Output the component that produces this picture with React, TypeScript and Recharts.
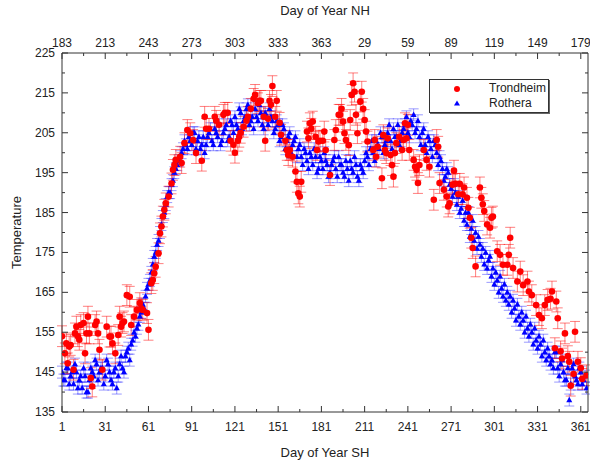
import React from 'react';
import { ScatterChart, Scatter, XAxis, YAxis, ErrorBar } from 'recharts';

// day of year (southern hemisphere) on the bottom axis, northern hemisphere on top
const SH_TICKS = [1, 31, 61, 91, 121, 151, 181, 211, 241, 271, 301, 331, 361];
const NH_LABELS = ['183', '213', '243', '273', '303', '333', '363', '29', '59', '89', '119', '149', '179'];
const X_MINOR = [16, 46, 76, 106, 136, 166, 196, 226, 256, 286, 316, 346];
const Y_TICKS = [135, 145, 155, 165, 175, 185, 195, 205, 215, 225];
const Y_MINOR = [140, 150, 160, 170, 180, 190, 200, 210, 220];

const TRONDHEIM_ERR = 2.6;
const ROTHERA_ERR = 1.5;

// [day, temperature]
const TRONDHEIM: [number, number][] = [
  [1, 154], [3, 149.7], [4, 152.2], [5, 147.2], [6, 151.4], [7, 151.8], [9, 145.6], [10, 154.7],
  [11, 156.4], [12, 154], [13, 153.1], [14, 156.8], [16, 157.3], [17, 149.7], [18, 154.7], [19, 158.9],
  [20, 154.7], [21, 143.5], [22, 141.4], [24, 156.8], [25, 157.7], [26, 154.7], [27, 150.6], [29, 145.6],
  [32, 156.4], [34, 153.9], [35, 153.9], [36, 152.2], [38, 149.7], [40, 154.3], [41, 158.9], [42, 156.4],
  [43, 157.3], [44, 157.7], [46, 164.3], [48, 163.9], [49, 156.8], [51, 158.9], [53, 160.6], [55, 162.3],
  [56, 161], [57, 160.6], [60, 159.8], [61, 155.6], [63, 167.3], [64, 168.1], [65, 169.8], [66, 171.4],
  [68, 174.8], [69, 179.8], [70, 181.5], [71, 184], [72, 185.7], [73, 187.3], [75, 189], [77, 192.3],
  [78, 195.7], [79, 196.9], [80, 198.2], [83, 199], [84, 197.4], [86, 202.4], [88, 205.7], [90, 204.9],
  [92, 203.2], [94, 199.9], [98, 198], [100, 209], [101, 206], [103, 206], [107, 209], [108, 208],
  [110, 207], [113, 209.5], [114, 210], [116, 210], [118, 203], [120, 202], [121, 200], [123, 203],
  [124, 204], [125, 205], [127, 206.5], [129, 208], [130, 209], [132, 211], [134, 213.5], [135, 214.5],
  [137, 212.4], [138, 213], [139, 213], [141, 209], [142, 203], [144, 208.5], [145, 213], [146, 212],
  [147, 216.7], [149, 209], [150, 213], [152, 207.5], [153, 204.5], [156, 203], [157, 200.7], [158, 199.4],
  [159, 200.7], [161, 199], [163, 195.3], [164, 192.7], [165, 189.8], [166, 189], [167, 192.7], [171, 205.3],
  [172, 203.6], [173, 207.4], [174, 206], [175, 207.8], [177, 204], [178, 200.7], [179, 202.8], [180, 203],
  [182, 203], [183, 205.3], [184, 200.7], [187, 194.4], [190, 203.2], [191, 205.7], [193, 209.5], [194, 209.5],
  [195, 211], [196, 207.8], [197, 204.9], [198, 203.2], [200, 201.9], [201, 208.2], [202, 214.5], [203, 217.4],
  [204, 215.3], [205, 209.5], [206, 204.9], [208, 212.8], [209, 215.3], [210, 211], [211, 208.2], [212, 205.3],
  [213, 202.8], [217, 200.7], [218, 203.2], [219, 199], [220, 201.5], [223, 193.6], [224, 204.4], [225, 200.7],
  [226, 199.9], [227, 203.6], [229, 199.4], [230, 196.9], [231, 194], [232, 199.9], [233, 202.4], [235, 204],
  [237, 200.7], [238, 203.2], [239, 207.4], [240, 203.6], [241, 207], [242, 200.7], [245, 198.2], [246, 196.5],
  [247, 195.7], [248, 192.4], [249, 196.9], [252, 200.7], [254, 198.2], [256, 196.5], [259, 188.2], [261, 203.2],
  [262, 201.5], [263, 192.4], [266, 190.7], [268, 189], [269, 186.5], [270, 187.3], [272, 192], [273, 195.5],
  [274, 192.2], [276, 189.6], [277, 192.2], [279, 189.6], [280, 191.3], [282, 188.7], [283, 186.2], [284, 183.7],
  [285, 178.7], [286, 176.1], [288, 171.5], [291, 191.3], [292, 188.7], [293, 187.1], [294, 185.4], [296, 182],
  [298, 181.2], [299, 183.7], [300, 184], [303, 175.3], [305, 174.4], [307, 171.9], [310, 171.9], [311, 174.4],
  [312, 178.7], [314, 171.1], [317, 167.7], [319, 170.2], [321, 166.8], [324, 167.7], [325, 165.2], [327, 164.3],
  [330, 161.8], [332, 159.3], [334, 158.5], [336, 161.8], [338, 163.1], [340, 163.4], [341, 165.2], [343, 151],
  [344, 162.7], [345, 158.5], [347, 150.2], [348, 148.4], [350, 154.7], [352, 149], [353, 147.6], [354, 141.6],
  [356, 144.5], [357, 155.1], [359, 147.6], [361, 146], [362, 143.3], [365, 144.2],
];

const ROTHERA: [number, number][] = [
  [1, 145], [2, 143], [3, 143], [4, 146], [5, 146], [6, 142], [7, 144], [8, 145], [9, 142], [10, 147],
  [11, 145], [12, 141], [13, 143], [14, 144], [15, 141], [16, 146], [17, 144], [18, 140], [19, 140], [20, 143],
  [21, 146], [22, 145], [23, 144], [24, 148], [25, 147], [26, 143], [27, 145], [28, 146], [29, 146], [30, 142],
  [31, 144], [32, 148], [33, 147], [34, 145], [35, 143], [36, 142], [37, 145], [38, 146], [39, 141], [40, 144],
  [41, 147], [42, 149], [43, 146], [44, 145], [45, 149], [46, 150], [47, 151], [48, 148], [49, 152], [50, 153],
  [51, 155], [52, 154], [53, 156], [54, 157], [55, 159], [56, 160], [57, 162], [58, 161], [59, 164], [60, 166],
  [61, 167], [62, 168], [63, 170], [64, 172], [65, 174], [66, 175], [67, 177], [68, 178], [69, 180], [70, 182],
  [71, 184], [72, 185], [73, 187], [74, 189], [75, 190], [76, 190], [77, 192], [78, 193], [79, 195], [80, 196],
  [81, 197], [82, 198], [83, 199], [84, 200], [85, 201], [86, 203], [87, 202], [88, 201], [89, 204], [90, 203],
  [91, 202], [92, 205], [93, 205], [94, 201], [95, 203], [96, 204], [97, 201], [98, 202], [99, 204], [100, 200],
  [101, 202], [102, 204], [103, 205], [104, 206], [105, 203], [106, 202], [107, 206], [108, 205], [109, 204], [110, 207],
  [111, 202], [112, 203], [113, 205], [114, 206], [115, 207], [116, 203], [117, 204], [118, 208], [119, 207], [120, 205],
  [121, 209], [122, 207], [123, 206], [124, 211], [125, 210], [126, 206], [127, 208], [128, 209], [129, 211], [130, 212],
  [131, 207], [132, 208], [133, 209], [134, 206], [135, 211], [136, 209], [137, 208], [138, 212], [139, 210], [140, 207],
  [141, 206], [142, 210], [143, 209], [144, 207], [145, 211], [146, 209], [147, 208], [148, 205], [149, 206], [150, 208],
  [151, 207], [152, 203], [153, 204], [154, 207], [155, 206], [156, 201], [157, 203], [158, 204], [159, 205], [160, 200],
  [161, 202], [162, 203], [163, 204], [164, 199], [165, 201], [166, 202], [167, 199], [168, 197], [169, 201], [170, 200],
  [171, 198], [172, 196], [173, 200], [174, 199], [175, 197], [176, 201], [177, 199], [178, 195], [179, 196], [180, 199],
  [181, 198], [182, 196], [183, 200], [184, 198], [185, 197], [186, 194], [187, 195], [188, 197], [189, 198], [190, 199],
  [191, 196], [192, 194], [193, 199], [194, 197], [195, 197], [196, 195], [197, 194], [198, 198], [199, 196], [200, 193],
  [201, 198], [202, 196], [203, 195], [204, 199], [205, 197], [206, 194], [207, 193], [208, 197], [209, 196], [210, 195],
  [211, 198], [212, 200], [213, 199], [214, 197], [215, 201], [216, 203], [217, 200], [218, 198], [219, 203], [220, 202],
  [221, 201], [222, 205], [223, 204], [224, 200], [225, 202], [226, 203], [227, 205], [228, 207], [229, 203], [230, 201],
  [231, 206], [232, 204], [233, 204], [234, 207], [235, 202], [236, 203], [237, 205], [238, 206], [239, 207], [240, 209],
  [241, 205], [242, 204], [243, 208], [244, 207], [245, 209.5], [246, 205], [247, 206], [248, 208], [249, 204], [250, 202],
  [251, 205], [252, 206], [253, 202], [254, 200], [255, 204], [256, 203], [257, 201], [258, 199], [259, 203], [260, 202],
  [261, 200], [262, 197], [263, 199], [264, 198], [265, 196], [266, 193], [267, 194], [268, 196], [269, 195], [270, 192],
  [271, 191], [272, 189], [273, 192], [274, 190], [275, 187], [276, 189], [277, 185], [278, 186], [279, 188], [280, 183],
  [281, 185], [282, 182], [283, 185], [284, 179], [285, 181], [286, 183], [287, 178], [288, 180], [289, 176], [290, 179],
  [291, 177], [292, 174], [293, 176], [294, 172], [295, 175], [296, 171], [297, 173], [298, 174], [299, 169], [300, 171],
  [301, 167], [302, 170], [303, 168], [304, 165], [305, 169], [306, 166], [307, 164], [308, 167], [309, 163], [310, 165],
  [311, 162], [312, 164], [313, 160], [314, 163], [315, 161], [316, 158], [317, 162], [318, 159], [319, 157], [320, 160],
  [321, 158], [322, 155], [323, 159], [324, 156], [325, 154], [326, 157], [327, 155], [328, 152], [329, 156], [330, 153],
  [331, 151], [332, 154], [333, 152], [334, 149], [335, 153], [336, 150], [337, 148], [338, 151], [339, 149], [340, 147],
  [341, 148], [342, 146], [343, 150], [344, 150], [345, 146], [346, 144], [347, 147], [348, 148], [349, 145], [350, 143],
  [351, 143], [352, 146], [353, 138], [354, 142], [355, 146], [356, 147], [357, 144], [358, 143], [359, 142], [360, 146],
  [361, 145], [362, 142], [363, 143], [364, 144], [365, 141],
];

const AXIS = '#333';
const FONT = '"Liberation Sans", Arial, sans-serif';
const X_ALL = [...SH_TICKS, ...X_MINOR].sort((a, b) => a - b);
const Y_ALL = [...Y_TICKS, ...Y_MINOR].sort((a, b) => a - b);

const trondheimData = TRONDHEIM.map(([day, temp]) => ({ day, temp, err: TRONDHEIM_ERR }));
const rotheraData = ROTHERA.map(([day, temp]) => ({ day, temp, err: ROTHERA_ERR }));

function BottomTick({ x, y, payload }: any) {
  const major = SH_TICKS.includes(payload.value);
  return (
    <g>
      <line x1={x} x2={x} y1={y} y2={y - (major ? 6 : 3)} stroke={AXIS} />
      {major && (
        <text x={x} y={y + 19} textAnchor="middle" fontSize={12} fill="#222" fontFamily={FONT}>
          {payload.value}
        </text>
      )}
    </g>
  );
}

function TopTick({ x, y, payload }: any) {
  const idx = SH_TICKS.indexOf(payload.value);
  return (
    <g>
      <line x1={x} x2={x} y1={y} y2={y + (idx >= 0 ? 6 : 3)} stroke={AXIS} />
      {idx >= 0 && (
        <text x={x} y={y - 6} textAnchor="middle" fontSize={12} fill="#222" fontFamily={FONT}>
          {NH_LABELS[idx]}
        </text>
      )}
    </g>
  );
}

function LeftTick({ x, y, payload }: any) {
  const major = Y_TICKS.includes(payload.value);
  return (
    <g>
      <line x1={x} x2={x + (major ? 6 : 3)} y1={y} y2={y} stroke={AXIS} />
      {major && (
        <text x={x - 7} y={y + 4} textAnchor="end" fontSize={12} fill="#222" fontFamily={FONT}>
          {payload.value}
        </text>
      )}
    </g>
  );
}

function RightTick({ x, y, payload }: any) {
  const major = Y_TICKS.includes(payload.value);
  return <line x1={x} x2={x - (major ? 6 : 3)} y1={y} y2={y} stroke={AXIS} />;
}

const RedDot = (p: any) => <circle cx={p.cx} cy={p.cy} r={3.3} fill="#ff0000" />;
const BlueTri = (p: any) => (
  <path d={`M${p.cx},${p.cy - 3.3}L${p.cx + 3},${p.cy + 2.2}L${p.cx - 3},${p.cy + 2.2}Z`} fill="#0000ff" />
);

export default function App() {
  return (
    <div style={{ position: 'absolute', left: 0, top: 0, width: 590, height: 465, background: '#fff' }}>
      <ScatterChart width={590} height={465} margin={{ top: 0, right: 0, bottom: 0, left: 0 }}>
        <XAxis
          xAxisId="bottom"
          dataKey="day"
          type="number"
          domain={[1, 366]}
          allowDataOverflow
          ticks={X_ALL}
          interval={0}
          height={53}
          tickSize={0}
          tickMargin={0}
          tickLine={false}
          stroke={AXIS}
          tick={<BottomTick />}
          label={{ value: 'Day of Year SH', position: 'insideBottom', offset: 8, fontSize: 13, fill: '#222', fontFamily: FONT }}
        />
        <XAxis
          xAxisId="top"
          orientation="top"
          dataKey="day"
          type="number"
          domain={[1, 366]}
          allowDataOverflow
          ticks={X_ALL}
          interval={0}
          height={53}
          tickSize={0}
          tickMargin={0}
          tickLine={false}
          stroke={AXIS}
          tick={<TopTick />}
          label={{ value: 'Day of Year NH', position: 'insideTop', offset: 6, fontSize: 13, fill: '#222', fontFamily: FONT }}
        />
        <YAxis
          yAxisId="left"
          dataKey="temp"
          type="number"
          domain={[135, 225]}
          allowDataOverflow
          ticks={Y_ALL}
          interval={0}
          width={62}
          tickSize={0}
          tickMargin={0}
          tickLine={false}
          stroke={AXIS}
          tick={<LeftTick />}
          label={{
            value: 'Temperature',
            angle: -90,
            position: 'insideLeft',
            offset: 16,
            fontSize: 13,
            fill: '#222',
            fontFamily: FONT,
            style: { textAnchor: 'middle' },
          }}
        />
        <YAxis
          yAxisId="right"
          orientation="right"
          dataKey="temp"
          type="number"
          domain={[135, 225]}
          allowDataOverflow
          ticks={Y_ALL}
          interval={0}
          width={2}
          tickSize={0}
          tickMargin={0}
          tickLine={false}
          stroke={AXIS}
          tick={<RightTick />}
        />
        <Scatter
          name="Rothera"
          data={rotheraData}
          xAxisId="bottom"
          yAxisId="left"
          dataKey="temp"
          shape={BlueTri}
          isAnimationActive={false}
        >
          <ErrorBar dataKey="err" direction="y" width={5} stroke="#0000ff" strokeOpacity={0.4} strokeWidth={1} isAnimationActive={false} />
        </Scatter>
        <Scatter
          name="Trondheim"
          data={trondheimData}
          xAxisId="bottom"
          yAxisId="left"
          dataKey="temp"
          shape={RedDot}
          isAnimationActive={false}
        >
          <ErrorBar dataKey="err" direction="y" width={5} stroke="#ff0000" strokeOpacity={0.5} strokeWidth={1} isAnimationActive={false} />
        </Scatter>
      </ScatterChart>
      <div
        style={{
          position: 'absolute',
          left: 429,
          top: 79,
          width: 118,
          height: 32,
          border: '1px solid #333',
          boxShadow: '1px 1px 0 #666',
          background: '#fff',
          fontFamily: FONT,
          fontSize: 12,
          color: '#222',
        }}
      >
        <svg width={118} height={32} style={{ position: 'absolute', left: 0, top: 0 }}>
          <circle cx={27} cy={9} r={3} fill="#ff0000" />
          <path d="M27,20.5L30,25.5L24,25.5Z" fill="#0000ff" />
        </svg>
        <div style={{ position: 'absolute', left: 59, top: 1, lineHeight: '15px' }}>Trondheim</div>
        <div style={{ position: 'absolute', left: 59, top: 16, lineHeight: '15px' }}>Rothera</div>
      </div>
    </div>
  );
}
